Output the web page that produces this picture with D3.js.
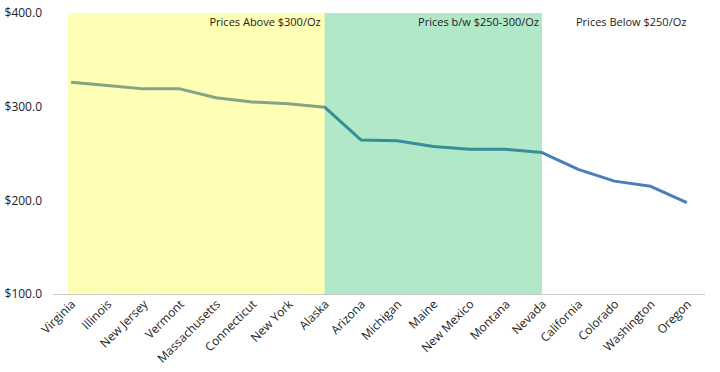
<!DOCTYPE html>
<html>
<head>
<meta charset="utf-8">
<script src="https://cdn.jsdelivr.net/npm/d3@7"></script>
<style>
  body { margin: 0; background: #fff; }
  svg text { font-family: "Open Sans", "Noto Sans", sans-serif; fill: #222; }
</style>
</head>
<body>
<div id="chart"></div>
<script>
let states = ['Virginia', 'Illinois', 'New Jersey', 'Vermont', 'Massachusetts', 'Connecticut', 'New York', 'Alaska',
              'Arizona', 'Michigan', 'Maine', 'New Mexico', 'Montana', 'Nevada',
              'California', 'Colorado', 'Washington', 'Oregon'];
let prices = [326, 322.5, 319, 319, 309.5, 305, 303, 299.5,
              264.5, 263.5, 257.5, 254.5, 254.5, 251,
              233, 220.5, 215, 197.5];
let yTicks = [100, 200, 300, 400];
// price groups: label, first state, last state
let groups = [
  {label: 'Prices Above $300/Oz', from: 'Virginia', to: 'Alaska', fill: '#fcfc10'},
  {label: 'Prices b/w $250-300/Oz', from: 'Alaska', to: 'Nevada', fill: '#04b44c'},
  {label: 'Prices Below $250/Oz', from: null, to: null, fill: null}
];

let w = 720, h = 372;
let padL = 53, padR = 705, padT = 13, padB = 294; // plot edges

let svg = d3.select('#chart').append('svg')
  .attr('width', w)
  .attr('height', h);

let xScale = d3.scaleBand()
  .domain(states)
  .range([padL, padR]);
let xc = d => xScale(d) + xScale.bandwidth() / 2;

let yScale = d3.scaleLinear()
  .domain([100, 400])
  .range([padB, padT]);

// the line
let line = d3.line()
  .x((d, i) => xc(states[i]))
  .y(d => yScale(d));

svg.append('path')
  .datum(prices)
  .attr('d', line)
  .attr('fill', 'none')
  .attr('stroke', '#4a7ebb')
  .attr('stroke-width', 3)
  .attr('stroke-linejoin', 'round');

// shaded bands drawn on top, see-through
groups.filter(g => g.from).forEach(g => {
  let x0 = g.from == states[0] ? xc(g.from) - 3 : xc(g.from);
  svg.append('rect')
    .attr('x', x0)
    .attr('y', yScale(400))
    .attr('width', xc(g.to) - x0)
    .attr('height', yScale(100) - yScale(400))
    .attr('fill', g.fill)
    .attr('fill-opacity', 0.31);
});

// band labels
svg.append('text').attr('x', xc('Alaska') - 4).attr('y', 26)
  .attr('text-anchor', 'end').attr('font-size', 11).text(groups[0].label);
svg.append('text').attr('x', xc('Nevada') - 3).attr('y', 26)
  .attr('text-anchor', 'end').attr('font-size', 11).text(groups[1].label);
svg.append('text').attr('x', 576).attr('y', 26)
  .attr('text-anchor', 'start').attr('font-size', 11).text(groups[2].label);

// x axis
svg.append('line')
  .attr('x1', padL).attr('x2', padR)
  .attr('y1', padB + 0.5).attr('y2', padB + 0.5)
  .attr('stroke', '#c8c8c8');

svg.append('g')
  .selectAll('text')
  .data(states)
  .enter()
  .append('text')
  .attr('transform', d => 'translate(' + (xc(d) + 5) + ',' + (padB + 11) + ') rotate(-45)')
  .attr('text-anchor', 'end')
  .attr('font-size', 12)
  .text(d => d);

// y axis labels
let yAxis = d3.axisLeft(yScale)
  .tickValues(yTicks)
  .tickSize(0)
  .tickPadding(0)
  .tickFormat(d => '$' + d3.format('.1f')(d));

let gy = svg.append('g')
  .attr('transform', 'translate(42,0)')
  .call(yAxis);
gy.select('.domain').remove();
gy.selectAll('text')
  .attr('font-size', 12)
  .style('font-family', '"Open Sans", "Noto Sans", sans-serif')
  .attr('fill', '#222');
</script>
</body>
</html>
